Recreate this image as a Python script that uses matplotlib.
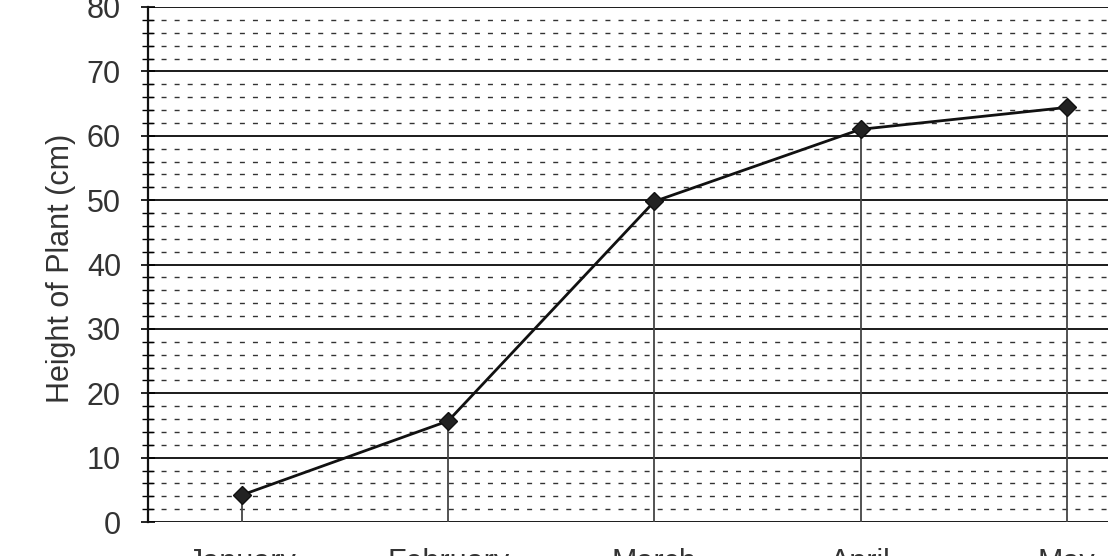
import numpy as np
from matplotlib import pyplot as plt
from matplotlib.ticker import MultipleLocator

# data
months = ['January', 'February', 'March', 'April', 'May']
height = [4.2, 15.7, 49.8, 61.0, 64.4]

plt.rcParams['font.family'] = ['Liberation Sans', 'DejaVu Sans']

fig = plt.figure(figsize=(11.08, 5.56), dpi=100)
ax = fig.add_axes([148/1108, 34/556, 1 - 148/1108, 515/556])

x = np.arange(len(months))

# grid: solid every 10, dashed every 2
for v in range(0, 81, 2):
    if v % 10 == 0:
        ax.axhline(v, color='#1a1a1a', lw=1.4, zorder=1)
    else:
        ax.axhline(v, color='#333333', lw=1.0, ls=(0, (3.6, 5.8)), zorder=1)

# drop lines from each point
ax.vlines(x, 0, height, color='#444444', lw=1.3, zorder=2)
ax.plot(x, height, color='#111111', lw=2.0, marker='D', ms=9,
        mfc='#222222', mec='#111111', zorder=3)

ax.set_xlim(-0.456, 4.2)
ax.set_ylim(0, 80)
ax.yaxis.set_major_locator(MultipleLocator(10))
ax.yaxis.set_minor_locator(MultipleLocator(2))
ax.set_xticks(x)
ax.set_xticklabels(months)

ax.tick_params(axis='y', which='major', direction='inout', length=10, width=1.2,
               pad=14.5, labelsize=22, labelcolor='#333333')
ax.tick_params(axis='y', which='minor', direction='inout', length=9, width=1.0)
ax.tick_params(axis='x', length=0, pad=18.5, labelsize=22, labelcolor='#333333')

for s in ['right', 'top', 'bottom']:
    ax.spines[s].set_visible(False)
ax.spines['left'].set_linewidth(1.6)
ax.spines['left'].set_color('#111111')

ax.set_ylabel('Height of Plant (cm)', fontsize=22, color='#333333')
ax.yaxis.set_label_coords(-0.075, 0.493)

fig.savefig('out.png', dpi=100)
